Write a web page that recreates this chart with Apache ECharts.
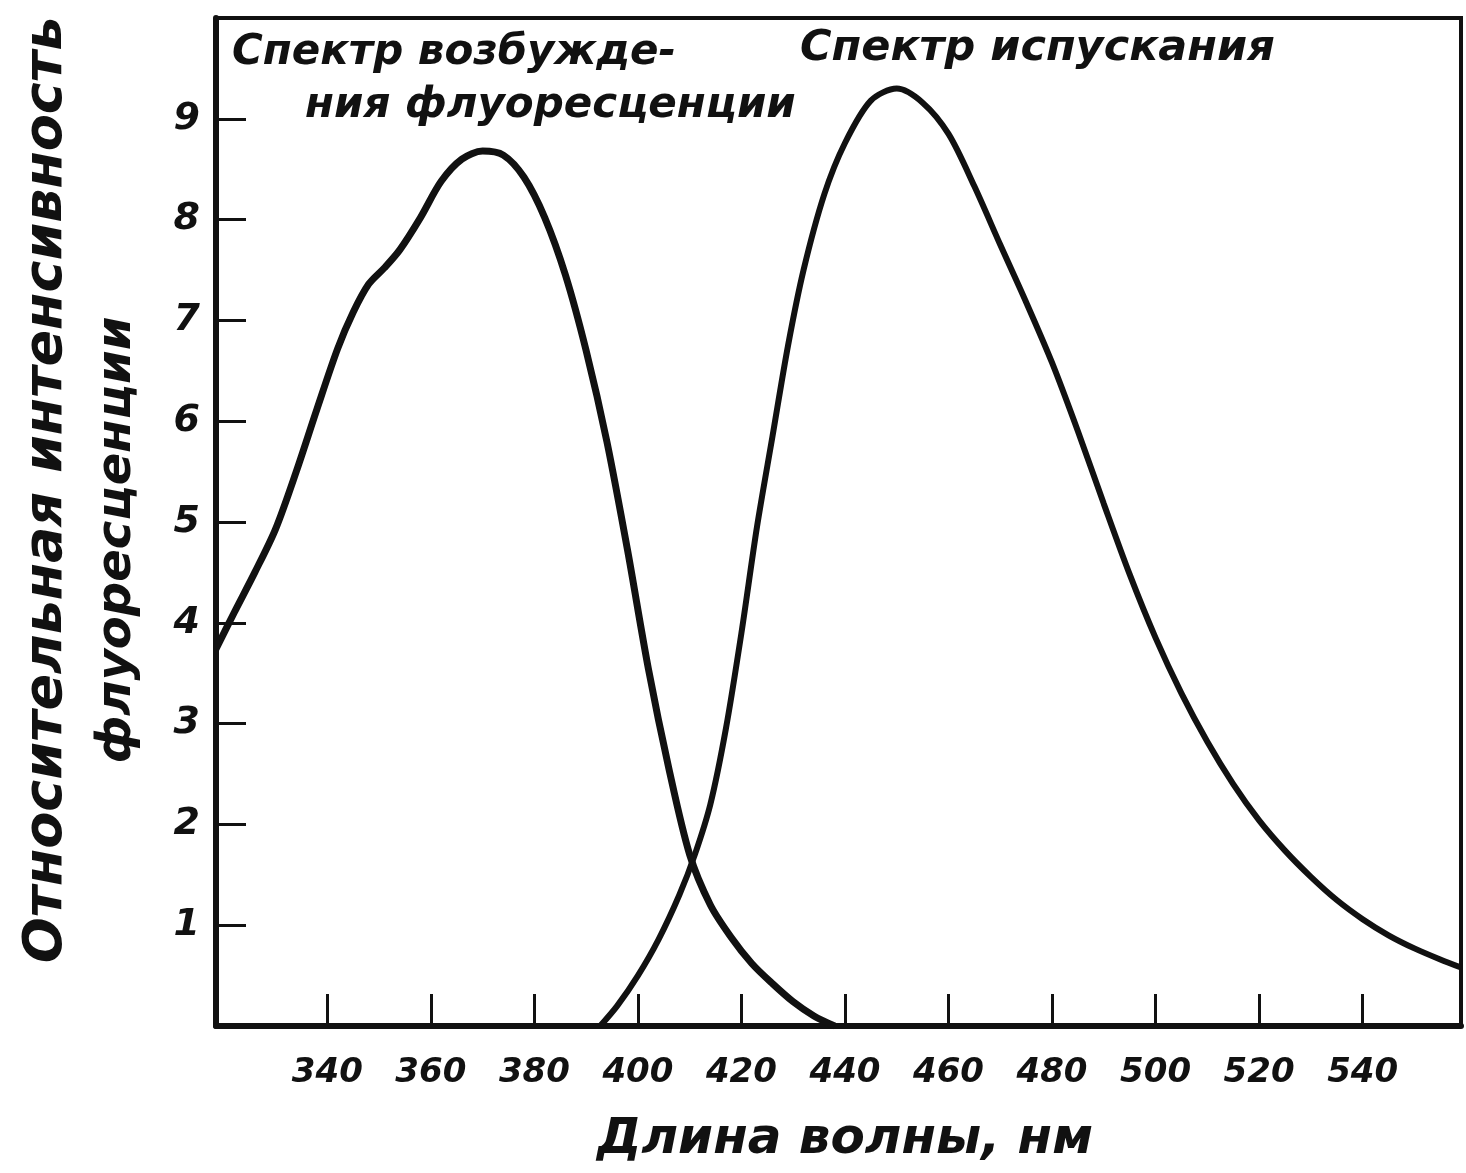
<!DOCTYPE html>
<html>
<head>
<meta charset="utf-8">
<title>Спектры флуоресценции</title>
<script src="https://cdn.jsdelivr.net/npm/echarts@6/dist/echarts.min.js"></script>
<style>
  html, body { margin: 0; padding: 0; background: #fff; }
  #chart { width: 1466px; height: 1173px; }
</style>
</head>
<body>
<div id="chart"></div>
<script>
// длина волны, нм / относительная интенсивность
var excitationX = [318.5, 322, 326, 330, 334, 338, 342, 345, 348, 351, 354, 358, 362, 366, 370, 374, 378, 382, 386, 390, 394, 398, 402, 406, 410, 414, 418, 422, 426, 430, 434, 438];
var excitationY = [3.74, 4.1, 4.5, 4.93, 5.5, 6.12, 6.72, 7.08, 7.36, 7.52, 7.7, 8.02, 8.38, 8.6, 8.68, 8.64, 8.42, 8.02, 7.45, 6.7, 5.8, 4.72, 3.55, 2.55, 1.7, 1.2, 0.88, 0.62, 0.42, 0.24, 0.1, 0];

var emissionX = [392.7, 396, 400, 404, 408, 411, 414, 417, 420, 423, 426, 429, 432, 436, 440, 445, 450, 455, 460, 465, 470, 475, 480, 485, 490, 495, 500, 505, 510, 515, 520, 525, 530, 535, 540, 545, 550, 555, 559];
var emissionY = [0, 0.2, 0.5, 0.86, 1.3, 1.7, 2.2, 2.95, 3.9, 4.95, 5.85, 6.75, 7.5, 8.25, 8.76, 9.18, 9.3, 9.16, 8.85, 8.33, 7.75, 7.18, 6.58, 5.9, 5.18, 4.48, 3.85, 3.3, 2.82, 2.4, 2.04, 1.74, 1.48, 1.25, 1.06, 0.9, 0.77, 0.66, 0.58];

var xTicks = [340, 360, 380, 400, 420, 440, 460, 480, 500, 520, 540];
var yTicks = [1, 2, 3, 4, 5, 6, 7, 8, 9];

function pairs(xs, ys) {
  return xs.map(function (x, i) { return [x, ys[i]]; });
}

var ink = '#111';
var font = 'DejaVu Sans';

var chart = echarts.init(document.getElementById('chart'));

var option = {
  backgroundColor: '#fff',
  animation: false,
  grid: {
    show: true,
    left: 216, right: 5, top: 18, bottom: 147,
    borderColor: ink,
    borderWidth: 4,
    backgroundColor: 'transparent'
  },
  xAxis: {
    type: 'value',
    min: 318.5,
    max: 559,
    axisLine: { show: true, onZero: false, lineStyle: { color: ink, width: 6 } },
    axisTick: {
      show: true, inside: true, length: 32,
      customValues: xTicks,
      lineStyle: { color: ink, width: 3 }
    },
    axisLabel: {
      customValues: xTicks,
      margin: 30,
      color: ink,
      fontFamily: font, fontStyle: 'italic', fontWeight: 'bold', fontSize: 34
    },
    splitLine: { show: false }
  },
  yAxis: {
    type: 'value',
    min: 0,
    max: 10,
    axisLine: { show: true, lineStyle: { color: ink, width: 6 } },
    axisTick: {
      show: true, inside: true, length: 30,
      customValues: yTicks,
      lineStyle: { color: ink, width: 3 }
    },
    axisLabel: {
      customValues: yTicks,
      margin: 16,
      color: ink,
      fontFamily: font, fontStyle: 'italic', fontWeight: 'bold', fontSize: 38
    },
    splitLine: { show: false }
  },
  graphic: [
    {
      type: 'text', left: 232, top: 32,
      style: { text: 'Спектр возбужде-', fill: ink, font: 'italic bold 42px "DejaVu Sans"' }
    },
    {
      type: 'text', left: 305, top: 85,
      style: { text: 'ния флуоресценции', fill: ink, font: 'italic bold 42px "DejaVu Sans"' }
    },
    {
      type: 'text', left: 800, top: 27,
      style: { text: 'Спектр испускания', fill: ink, font: 'italic bold 43px "DejaVu Sans"' }
    },
    {
      type: 'text', x: 845, y: 1140,
      style: { text: 'Длина волны, нм', fill: ink, align: 'center', verticalAlign: 'middle', font: 'italic bold 50px "DejaVu Sans"' }
    },
    {
      type: 'text', x: 47, y: 490, rotation: Math.PI / 2,
      style: { text: 'Относительная интенсивность', fill: ink, align: 'center', verticalAlign: 'middle', font: 'italic bold 54px "DejaVu Sans"' }
    },
    {
      type: 'text', x: 118, y: 540, rotation: Math.PI / 2,
      style: { text: 'флуоресценции', fill: ink, align: 'center', verticalAlign: 'middle', font: 'italic bold 48px "DejaVu Sans"' }
    }
  ],
  series: [
    {
      name: 'Спектр возбуждения флуоресценции',
      type: 'line',
      data: pairs(excitationX, excitationY),
      smooth: 0.3,
      showSymbol: false,
      clip: true,
      lineStyle: { color: ink, width: 7 }
    },
    {
      name: 'Спектр испускания',
      type: 'line',
      data: pairs(emissionX, emissionY),
      smooth: 0.3,
      showSymbol: false,
      clip: true,
      lineStyle: { color: ink, width: 6 }
    }
  ]
};

chart.setOption(option);
</script>
</body>
</html>
